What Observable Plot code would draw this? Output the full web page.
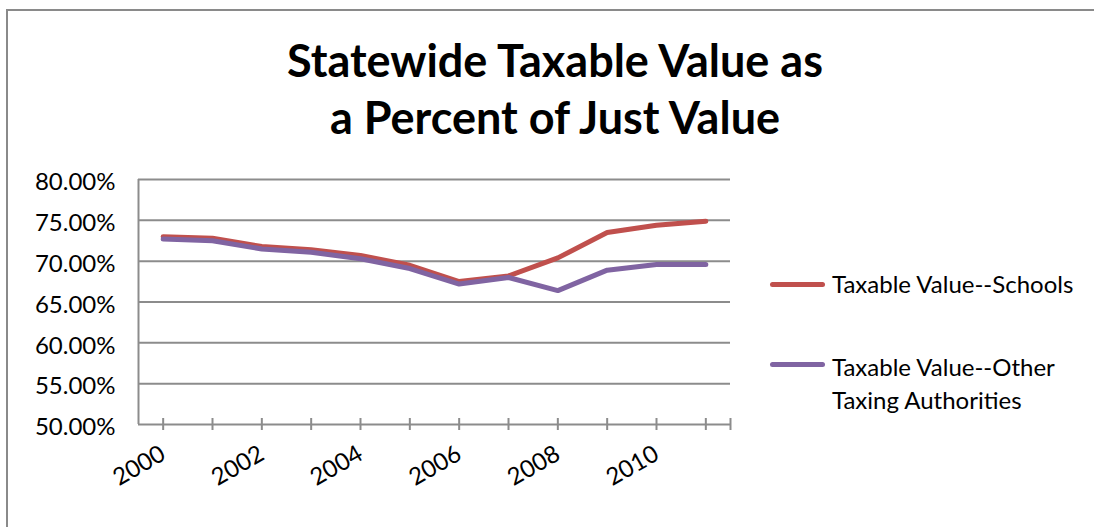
<!DOCTYPE html>
<html><head><meta charset="utf-8">
<script src="https://cdn.jsdelivr.net/npm/d3@7"></script>
<script src="https://cdn.jsdelivr.net/npm/@observablehq/plot@0.6"></script>
<style>
html,body{margin:0;padding:0;background:#fff;overflow:hidden;}
#wrap{position:relative;width:1094px;height:527px;overflow:hidden;font-family:Lato,"Open Sans",sans-serif;color:#000;}
#border{position:absolute;left:6px;top:9px;width:1300px;height:800px;border-left:2px solid #8a8a8a;border-top:2px solid #8a8a8a;}
#title{position:absolute;left:0;width:1110px;top:32px;text-align:center;font-weight:bold;font-size:45px;line-height:57px;}
#chart{position:absolute;left:0;top:0;}
.legline{position:absolute;width:55px;height:5px;border-radius:3px;}
.legtext{position:absolute;font-size:24px;line-height:33px;white-space:nowrap;}
</style></head>
<body>
<div id="wrap">
  <div id="border"></div>
  <div id="title"></div>
  <div id="chart"></div>
  <div id="legend"></div>
</div>
<script>
const titleLines = ["Statewide Taxable Value as", "a Percent of Just Value"];
const years = [2000, 2001, 2002, 2003, 2004, 2005, 2006, 2007, 2008, 2009, 2010, 2011];
const schools = [73.0, 72.8, 71.8, 71.4, 70.7, 69.5, 67.5, 68.2, 70.4, 73.5, 74.4, 74.9];
const others  = [72.7, 72.5, 71.5, 71.1, 70.3, 69.1, 67.2, 68.0, 66.4, 68.9, 69.6, 69.6];
const seriesNames = ["Taxable Value--Schools", "Taxable Value--Other Taxing Authorities"];
const legendLines = [["Taxable Value--Schools"], ["Taxable Value--Other", "Taxing Authorities"]];
const seriesColors = ["#C0504D", "#8064A2"];
const yTicks = [50, 55, 60, 65, 70, 75, 80];
const xLabels = [2000, 2002, 2004, 2006, 2008, 2010];

const data = [];
years.forEach((yr, i) => {
  data.push({year: yr, value: schools[i], series: seriesNames[0]});
});
years.forEach((yr, i) => {
  data.push({year: yr, value: others[i], series: seriesNames[1]});
});

document.getElementById("title").innerHTML = titleLines.join("<br>");

const xDomain = [years[0] - 0.5, years[years.length - 1] + 0.5];
const grid = "#8c8c8c";

const chart = Plot.plot({
  width: 1094, height: 527,
  marginLeft: 138, marginRight: 364, marginTop: 179, marginBottom: 103,
  x: {domain: xDomain, axis: null},
  y: {domain: [50, 80], axis: null},
  color: {domain: seriesNames, range: seriesColors},
  style: {fontFamily: "Lato, 'Open Sans', sans-serif", fontSize: "24px", background: "transparent", color: "#000", overflow: "visible"},
  marks: [
    Plot.ruleY(yTicks, {stroke: grid, strokeWidth: 2}),
    Plot.ruleX([xDomain[0]], {stroke: grid, strokeWidth: 2}),
    Plot.ruleX([...years, xDomain[1]], {stroke: grid, strokeWidth: 2, insetTop: 239, insetBottom: -6}),
    Plot.text(yTicks, {y: d => d, text: d => d.toFixed(2) + "%", frameAnchor: "left", textAnchor: "end", dx: -23, dy: 3, fill: "#000"}),
    Plot.text(xLabels, {x: d => d, text: d => String(d), frameAnchor: "bottom", rotate: -30, textAnchor: "end", dx: 4, dy: 34, fill: "#000"}),
    Plot.line(data, {x: "year", y: "value", stroke: "series", z: "series", strokeWidth: 5, strokeLinecap: "round", strokeLinejoin: "round"})
  ]
});
document.getElementById("chart").appendChild(chart);

const legend = document.getElementById("legend");
const legLineY = [284, 364];
const legTextTop = [267, 350];
seriesNames.forEach((name, i) => {
  const ln = document.createElement("div");
  ln.className = "legline";
  ln.style.left = "770px";
  ln.style.top = (legLineY[i] - 2.5) + "px";
  ln.style.background = seriesColors[i];
  legend.appendChild(ln);
  const tx = document.createElement("div");
  tx.className = "legtext";
  tx.style.left = "832px";
  tx.style.top = legTextTop[i] + "px";
  tx.innerHTML = legendLines[i].join("<br>");
  legend.appendChild(tx);
});
</script>
</body></html>
